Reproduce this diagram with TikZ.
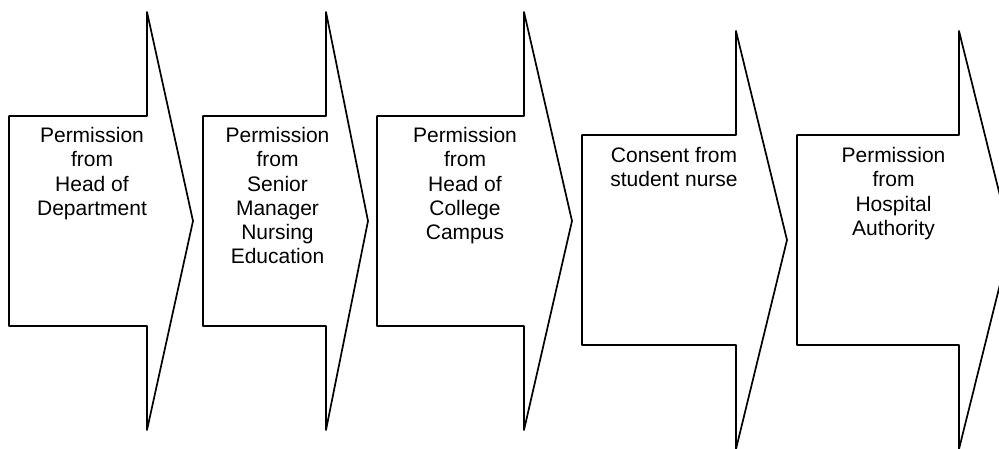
\documentclass[tikz,border=0pt]{standalone}
\usepackage{fontspec}
\setmainfont{Liberation Sans}
\begin{document}
\begin{tikzpicture}[x=1pt,y=-1pt,
  chevron/.style={draw=black, line width=1.7pt, line join=round},
  lbl/.style={anchor=north, inner sep=0pt, align=center, text=black,
    font=\fontsize{21}{24.3}\selectfont}]
\useasboundingbox (0,0) rectangle (999,448);
% arrow shapes
\draw[chevron] (9,116) -- (147,116) -- (147,12) -- (193,221) -- (147,430) -- (147,326) -- (9,326) -- cycle;
\draw[chevron] (203,116) -- (326,116) -- (326,12) -- (368,221) -- (326,430) -- (326,326) -- (203,326) -- cycle;
\draw[chevron] (377,116) -- (524,116) -- (524,12) -- (572,221) -- (524,430) -- (524,326) -- (377,326) -- cycle;
\draw[chevron] (582,135) -- (736,135) -- (736,31) -- (787,240) -- (736,449) -- (736,345) -- (582,345) -- cycle;
\draw[chevron] (797,135) -- (959,135) -- (959,31) -- (1011,240) -- (959,449) -- (959,345) -- (797,345) -- cycle;
% labels
\node[lbl] (t1) at (92,127) {Permission\\from\\Head of\\Department};
\node[lbl] (t2) at (277.5,127) {Permission\\from\\Senior\\Manager\\Nursing\\Education};
\node[lbl] (t3) at (465,127) {Permission\\from\\Head of\\College\\Campus};
\node[lbl] (t4) at (674,147) {Consent from\\student nurse};
\node[lbl] (t5) at (893.5,147) {Permission\\from\\Hospital\\Authority};
\end{tikzpicture}
\end{document}
